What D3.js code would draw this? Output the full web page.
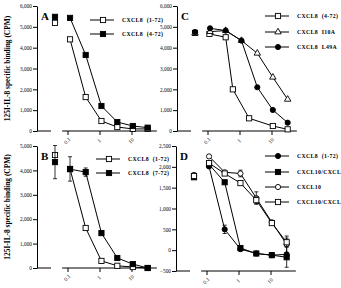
<!DOCTYPE html>
<html>
<head>
<meta charset="utf-8">
<script src="https://cdn.jsdelivr.net/npm/d3@7"></script>
<style>
  body { margin: 0; background: #fff; }
  svg { display: block; font-family: 'Liberation Serif', 'DejaVu Serif', serif; }
</style>
</head>
<body>
<div id="chart"></div>
<script>
const W = 341
const H = 288

// concentrations (log axis), control shown in the axis gap
const conc = [0.12, 0.37, 1.15, 3.6, 11, 32]
const concC47 = [0.115, 0.37, 0.62, 2.0, 11, 32]
const xTicks = [0.1, 1, 10]
const xTickLabels = ['0.1', '1', '10']

// panel A
const aNames = ['CXCL8  (1-72)', 'CXCL8  (4-72)']
const a172 = [4400, 1630, 480, 190, 100, 100]
const a472 = [5430, 3650, 1200, 430, 240, 160]
const aCtrl = [5190, 5480]
const aTicks = [0, 1000, 2000, 3000, 4000, 5000, 6000]

// panel B
const bNames = ['CXCL8  (1-72)', 'CXCL8  (7-72)']
const b172 = [4060, 1640, 290, 90, 40, 0]
const b772 = [4050, 3930, 1430, 410, 160, 0]
const bErr172 = [500, 0, 0, 0, 0, 0]
const bErr772 = [0, 170, 0, 0, 0, 0]
const bCtrl = [4630, 4340]
const bCtrlErr = [0, 680]
const bTicks = [0, 1000, 2000, 3000, 4000, 5000]

// panel C
const cNames = ['CXCL8  (4-72)', 'CXCL8  I10A', 'CXCL8  L49A']
const c472 = [4660, 4500, 2000, 610, 240, 80]
const cI10A = [4770, 4820, 4340, 3730, 2580, 1520]
const cL49A = [4930, 4820, 4340, 2100, 1010, 400]
const cCtrl = [4710, 4700, 4750]
const cTicks = [0, 1000, 2000, 3000, 4000, 5000, 6000]

// panel D
const dNames = ['CXCL8  (1-72)', 'CXCL10/CXCL', 'CXCL10', 'CXCL10/CXCL']
const d172 = [2010, 500, 25, -80, -120, -100]
const d10mix = [2060, 1630, 50, -80, -120, -170]
const d10 = [2250, 1870, 1840, 1250, 670, 140]
const d10mix2 = [2090, 1840, 1610, 1200, 650, 190]
const dErr172 = [0, 100, 0, 0, 0, 0]
const dErrMix = [0, 0, 0, 0, 0, 240]
const dErr10 = [0, 0, 80, 150, 0, 200]
const dErrMix2 = [0, 0, 0, 80, 0, 100]
const dCtrl = [1800, 1750, 1800, 1780]
const dTicks = [-500, 0, 500, 1000, 1500, 2000, 2500]

const svg = d3.select('#chart')
	.append('svg')
	.attr('width', W)
	.attr('height', H);

svg.append('rect').attr('width', W).attr('height', H).attr('fill', '#fff');

function marker(g, shape, cx, cy) {
	if (shape === 'sqOpen' || shape === 'sqFill') {
		g.append('rect')
			.attr('x', cx - 2.6).attr('y', cy - 2.6)
			.attr('width', 5.2).attr('height', 5.2)
			.attr('fill', shape === 'sqFill' ? '#000' : '#fff')
			.attr('stroke', '#000').attr('stroke-width', 0.9);
	} else if (shape === 'cirOpen' || shape === 'cirFill') {
		g.append('circle')
			.attr('cx', cx).attr('cy', cy).attr('r', 2.6)
			.attr('fill', shape === 'cirFill' ? '#000' : '#fff')
			.attr('stroke', '#000').attr('stroke-width', 0.9);
	} else if (shape === 'triOpen') {
		g.append('path')
			.attr('d', d3.symbol().type(d3.symbolTriangle).size(18)())
			.attr('transform', `translate(${cx},${cy})`)
			.attr('fill', '#fff')
			.attr('stroke', '#000').attr('stroke-width', 0.9);
	}
}

function drawPanel(p) {
	const g = svg.append('g');
	const ax = p.ax;

	const y = d3.scaleLinear().domain(p.yDomain).range([p.yBot, p.yTop]);
	const x = d3.scaleLog().domain([0.1, 10]).range([ax + 30.5, ax + 94.5]);
	const ctrlX = ax + 18;
	const axisY = y(p.yDomain[0]);

	// y axis
	const yAxis = d3.axisLeft(y).tickValues(p.yTicks).tickSize(4).tickSizeOuter(0);
	const yg = g.append('g').attr('transform', `translate(${ax},0)`).call(yAxis);
	yg.select('.domain').attr('stroke-width', 1);
	yg.selectAll('text').attr('font-size', 5.3).attr('x', -5).attr('font-family', 'Liberation Serif');

	// broken x axis: short piece + log piece
	g.append('line')
		.attr('x1', ax).attr('x2', ax + 14)
		.attr('y1', axisY).attr('y2', axisY)
		.attr('stroke', '#000');
	g.append('line')
		.attr('x1', x(0.068)).attr('x2', x(62))
		.attr('y1', axisY).attr('y2', axisY)
		.attr('stroke', '#000');
	const xAxis = d3.axisBottom(x).tickValues(xTicks).tickSize(4).tickFormat('');
	const xg = g.append('g').attr('transform', `translate(0,${axisY})`).call(xAxis);
	xg.select('.domain').remove();
	xTicks.forEach((t, i) => {
		g.append('text')
			.attr('transform', `translate(${x(t) + 1},${axisY + 11}) rotate(-45)`)
			.attr('text-anchor', 'middle')
			.attr('font-size', 5.5)
			.text(xTickLabels[i]);
	});

	// series
	p.series.forEach((s, k) => {
		const xs = s.x || conc;
		const line = d3.line().x((d, i) => x(xs[i])).y(d => y(d));
		g.append('path')
			.attr('d', line(s.values))
			.attr('fill', 'none')
			.attr('stroke', '#000')
			.attr('stroke-width', 1);
		s.values.forEach((v, i) => {
			const e = s.err ? s.err[i] : 0;
			if (e > 0) {
				const px = x(xs[i]);
				g.append('line').attr('x1', px).attr('x2', px)
					.attr('y1', y(v - e)).attr('y2', y(v + e)).attr('stroke', '#000').attr('stroke-width', 0.8);
				[v - e, v + e].forEach(ev => g.append('line')
					.attr('x1', px - 2).attr('x2', px + 2)
					.attr('y1', y(ev)).attr('y2', y(ev)).attr('stroke', '#000').attr('stroke-width', 0.8));
			}
		});
		// control
		const ce = p.ctrlErr ? p.ctrlErr[k] : 0;
		if (ce > 0) {
			g.append('line').attr('x1', ctrlX).attr('x2', ctrlX)
				.attr('y1', y(p.ctrl[k] - ce)).attr('y2', y(p.ctrl[k] + ce)).attr('stroke', '#000').attr('stroke-width', 0.8);
			[p.ctrl[k] - ce, p.ctrl[k] + ce].forEach(ev => g.append('line')
				.attr('x1', ctrlX - 2).attr('x2', ctrlX + 2)
				.attr('y1', y(ev)).attr('y2', y(ev)).attr('stroke', '#000').attr('stroke-width', 0.8));
		}
		marker(g, s.shape, ctrlX, y(p.ctrl[k]));
		s.values.forEach((v, i) => marker(g, s.shape, x(xs[i]), y(v)));
	});

	// legend
	p.series.forEach((s, k) => {
		const ly = p.legY[k];
		g.append('line')
			.attr('x1', p.legX).attr('x2', p.legX + 24)
			.attr('y1', ly).attr('y2', ly)
			.attr('stroke', '#000');
		marker(g, s.shape, p.legX + 13, ly);
		g.append('text')
			.attr('x', p.legX + 32).attr('y', ly + 2)
			.attr('font-size', 5.8)
			.attr('font-weight', 'bold')
			.attr('letter-spacing', 0.35)
			.style('white-space', 'pre')
			.text(p.names[k]);
	});

	// panel letter
	g.append('text')
		.attr('x', ax + 4).attr('y', p.yTop + 14)
		.attr('font-size', 11)
		.attr('font-weight', 'bold')
		.text(p.label);

	// y title
	if (p.title) {
		g.append('text')
			.attr('transform', `translate(10,${(p.yTop + p.yBot) / 2}) rotate(-90)`)
			.attr('text-anchor', 'middle')
			.attr('font-size', 7.4)
			.attr('font-weight', 'bold')
			.text('125I-IL-8 specific binding (CPM)');
	}
}

drawPanel({
	label: 'A', ax: 37, yTop: 6, yBot: 131, yDomain: [0, 6000], yTicks: aTicks, title: true,
	names: aNames, ctrl: aCtrl, legX: 90, legY: [20, 34],
	series: [
		{ values: a172, shape: 'sqOpen' },
		{ values: a472, shape: 'sqFill' }
	]
});

drawPanel({
	label: 'B', ax: 37, yTop: 146, yBot: 268, yDomain: [0, 5000], yTicks: bTicks, title: true,
	names: bNames, ctrl: bCtrl, ctrlErr: bCtrlErr, legX: 96, legY: [159, 173],
	series: [
		{ values: b172, shape: 'sqOpen', err: bErr172 },
		{ values: b772, shape: 'sqFill', err: bErr772 }
	]
});

drawPanel({
	label: 'C', ax: 177, yTop: 6, yBot: 131, yDomain: [0, 6000], yTicks: cTicks, title: false,
	names: cNames, ctrl: cCtrl, legX: 265, legY: [16, 32, 47],
	series: [
		{ values: c472, shape: 'sqOpen', x: concC47 },
		{ values: cI10A, shape: 'triOpen' },
		{ values: cL49A, shape: 'cirFill' }
	]
});

drawPanel({
	label: 'D', ax: 176, yTop: 146, yBot: 271, yDomain: [-500, 2500], yTicks: dTicks, title: false,
	names: dNames, ctrl: dCtrl, legX: 265, legY: [156, 172, 187, 202],
	series: [
		{ values: d172, shape: 'cirFill', err: dErr172 },
		{ values: d10mix, shape: 'sqFill', err: dErrMix },
		{ values: d10, shape: 'cirOpen', err: dErr10 },
		{ values: d10mix2, shape: 'sqOpen', err: dErrMix2 }
	]
});
</script>
</body>
</html>
